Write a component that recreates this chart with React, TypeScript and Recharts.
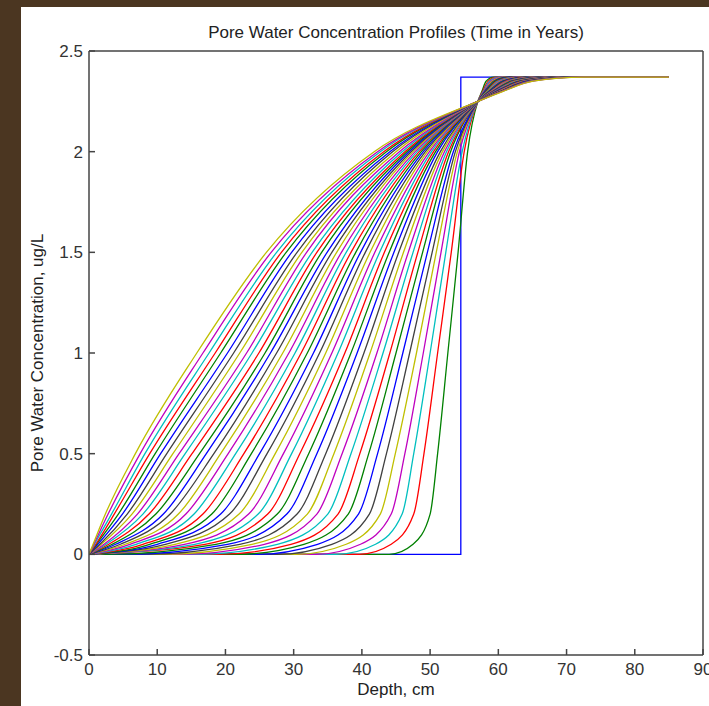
import React from "react"
import { LineChart, Line, XAxis, YAxis } from "recharts"

// Depth (cm) at which each profile crosses a concentration level.
// Profiles 1..40, from the one right next to the initial step (green) out to the outermost (yellow).
const footDepth = [44.0, 39.6, 36.3, 33.3, 30.4, 27.5, 24.5, 21.6, 18.8, 15.9, 13.1, 10.3, 7.6, 4.7, 2.0, 0, 0, 0, 0, 0, 0, 0, 0, 0, 0, 0, 0, 0, 0, 0, 0, 0, 0, 0, 0, 0, 0, 0, 0, 0]
const depthAt005 = [47.5, 44.3, 42.0, 39.8, 37.7, 35.6, 33.5, 31.5, 29.6, 27.6, 25.7, 23.9, 22.1, 20.3, 18.6, 17.0, 15.5, 14.0, 12.6, 11.2, 10.0, 8.9, 7.9, 6.9, 6.0, 5.3, 4.6, 3.9, 3.4, 2.9, 2.5, 2.2, 1.8, 1.6, 1.3, 1.1, 1.0, 0.8, 0.7, 0.6]
const depthAt020 = [50.0, 47.6, 45.9, 44.3, 42.7, 41.1, 39.5, 38.0, 36.5, 35.0, 33.4, 32.0, 30.5, 29.0, 27.6, 26.2, 24.8, 23.4, 22.0, 20.6, 19.3, 18.0, 16.7, 15.4, 14.2, 13.1, 11.9, 10.9, 9.8, 8.8, 7.9, 7.1, 6.3, 5.6, 4.9, 4.3, 3.7, 3.3, 2.8, 2.4]
const depthAt050 = [51.1, 49.1, 47.6, 46.3, 44.9, 43.6, 42.3, 41.0, 39.7, 38.4, 37.1, 35.9, 34.7, 33.4, 32.2, 30.9, 29.7, 28.5, 27.3, 26.1, 25.0, 23.8, 22.7, 21.5, 20.4, 19.3, 18.3, 17.2, 16.2, 15.1, 14.1, 13.2, 12.3, 11.4, 10.5, 9.7, 8.9, 8.2, 7.5, 6.8]
const depthAt100 = [52.6, 51.1, 50.0, 49.0, 48.0, 47.0, 46.0, 45.0, 44.1, 43.1, 42.2, 41.2, 40.3, 39.3, 38.4, 37.5, 36.5, 35.6, 34.7, 33.8, 32.9, 32.0, 31.1, 30.2, 29.3, 28.4, 27.5, 26.6, 25.8, 24.9, 23.9, 23.1, 22.1, 21.2, 20.3, 19.3, 18.5, 17.6, 16.7, 15.8]
const depthAt150 = [54.1, 53.1, 52.3, 51.6, 50.9, 50.3, 49.6, 48.9, 48.2, 47.5, 46.8, 46.1, 45.4, 44.7, 44.0, 43.3, 42.6, 41.9, 41.2, 40.5, 39.8, 39.1, 38.4, 37.7, 37.0, 36.3, 35.6, 34.9, 34.1, 33.4, 32.7, 31.9, 31.2, 30.5, 29.7, 28.9, 28.2, 27.5, 26.7, 26.0]
const depthAt200 = [55.5, 55.0, 54.7, 54.3, 54.0, 53.7, 53.4, 53.0, 52.7, 52.4, 52.1, 51.8, 51.5, 51.1, 50.8, 50.5, 50.2, 49.9, 49.6, 49.3, 49.0, 48.7, 48.4, 48.1, 47.8, 47.5, 47.2, 46.9, 46.6, 46.3, 45.9, 45.5, 45.0, 44.5, 44.1, 43.6, 43.2, 42.7, 42.3, 41.8]
const depthAt230 = [57.6, 57.7, 57.8, 57.9, 58.0, 58.0, 58.1, 58.2, 58.3, 58.4, 58.5, 58.5, 58.6, 58.7, 58.8, 58.9, 59.0, 59.0, 59.1, 59.2, 59.3, 59.4, 59.4, 59.5, 59.6, 59.7, 59.7, 59.8, 59.9, 60.0, 60.1, 60.1, 60.2, 60.3, 60.4, 60.4, 60.5, 60.6, 60.6, 60.7]
const depthAt235 = [58.2, 58.5, 58.7, 58.9, 59.1, 59.3, 59.5, 59.6, 59.8, 60.0, 60.2, 60.4, 60.6, 60.7, 60.9, 61.1, 61.3, 61.4, 61.6, 61.8, 62.0, 62.1, 62.3, 62.5, 62.7, 62.8, 63.0, 63.2, 63.3, 63.5, 63.7, 63.8, 64.0, 64.1, 64.3, 64.5, 64.6, 64.8, 65.0, 65.1]
const depthAtTop = [59.3, 59.8, 60.2, 60.6, 61.0, 61.3, 61.7, 62.1, 62.4, 62.8, 63.1, 63.5, 63.8, 64.2, 64.5, 64.8, 65.2, 65.5, 65.9, 66.2, 66.5, 66.9, 67.2, 67.5, 67.8, 68.2, 68.5, 68.8, 69.1, 69.4, 69.8, 70.1, 70.4, 70.7, 71.0, 71.3, 71.6, 71.9, 72.2, 72.6]

// all profiles pass close to this point
const crossDepth = 57
const crossConc = 2.25

const interfaceDepth = 54.5
const initialConc = 2.37
const maxDepth = 85

const xTicks = [0, 10, 20, 30, 40, 50, 60, 70, 80, 90]
const yTicks = [-0.5, 0, 0.5, 1, 1.5, 2, 2.5]

// old matlab colour order
const colors = ["#0000ff", "#008000", "#ff0000", "#00bfbf", "#bf00bf", "#bfbf00", "#404040"]

const font = "'Liberation Sans', Arial, Helvetica, sans-serif"

type Pt = { depth: number; conc: number }

const initialProfile: Pt[] = [
  { depth: 0, conc: 0 },
  { depth: interfaceDepth, conc: 0 },
  { depth: interfaceDepth, conc: initialConc },
  { depth: maxDepth, conc: initialConc },
]

const profiles: Pt[][] = depthAt100.map((_, i) => {
  const pts: Pt[] = [{ depth: 0, conc: 0 }]
  if (footDepth[i] > 0) pts.push({ depth: footDepth[i], conc: 0 })
  pts.push(
    { depth: depthAt005[i], conc: 0.05 },
    { depth: depthAt020[i], conc: 0.2 },
    { depth: depthAt050[i], conc: 0.5 },
    { depth: depthAt100[i], conc: 1.0 },
    { depth: depthAt150[i], conc: 1.5 },
    { depth: depthAt200[i], conc: 2.0 },
    { depth: crossDepth, conc: crossConc },
    { depth: depthAt230[i], conc: 2.3 },
    { depth: depthAt235[i], conc: 2.35 },
    { depth: depthAtTop[i], conc: initialConc },
    { depth: maxDepth, conc: initialConc },
  )
  return pts
})

const tickStyle = { fill: "#333", fontSize: 17, fontFamily: font }
const axisColor = "#444"

export default function App() {
  return (
    <div style={{ position: "absolute", left: 0, top: 0, width: 709, height: 706, background: "#4b3621", overflow: "hidden" }}>
      <div style={{ position: "absolute", left: 21, top: 7, width: 688, height: 699, background: "#fff" }} />
      <div style={{ position: "absolute", left: 0, top: 0 }}>
        <LineChart width={709} height={706} margin={{ top: 41, right: 2, bottom: 21, left: 29 }}>
          <XAxis
            dataKey="depth"
            type="number"
            domain={[0, 90]}
            ticks={xTicks}
            interval={0}
            allowDataOverflow
            height={30}
            tickSize={-6}
            tickMargin={14}
            tick={tickStyle}
            stroke={axisColor}
            axisLine={{ stroke: axisColor, strokeWidth: 1.5 }}
            tickLine={{ stroke: axisColor, strokeWidth: 1.5 }}
          />
          <XAxis
            xAxisId="top"
            orientation="top"
            type="number"
            domain={[0, 90]}
            ticks={xTicks}
            interval={0}
            allowDataOverflow
            height={10}
            tickSize={-6}
            tick={false}
            axisLine={{ stroke: axisColor, strokeWidth: 1.5 }}
            tickLine={{ stroke: axisColor, strokeWidth: 1.5 }}
          />
          <YAxis
            type="number"
            domain={[-0.5, 2.5]}
            ticks={yTicks}
            interval={0}
            allowDataOverflow
            width={60}
            tickSize={-6}
            tickMargin={12}
            tick={tickStyle}
            axisLine={{ stroke: axisColor, strokeWidth: 1.5 }}
            tickLine={{ stroke: axisColor, strokeWidth: 1.5 }}
          />
          <YAxis
            yAxisId="right"
            orientation="right"
            type="number"
            domain={[-0.5, 2.5]}
            ticks={yTicks}
            interval={0}
            allowDataOverflow
            width={4}
            tickSize={-6}
            tick={false}
            axisLine={{ stroke: axisColor, strokeWidth: 1.5 }}
            tickLine={{ stroke: axisColor, strokeWidth: 1.5 }}
          />
          <Line
            data={initialProfile}
            dataKey="conc"
            type="linear"
            stroke={colors[0]}
            strokeWidth={1.3}
            dot={false}
            activeDot={false}
            isAnimationActive={false}
          />
          {profiles.map((p, i) => (
            <Line
              key={i}
              data={p}
              dataKey="conc"
              type="monotone"
              stroke={colors[(i + 1) % colors.length]}
              strokeWidth={1.3}
              dot={false}
              activeDot={false}
              isAnimationActive={false}
            />
          ))}
        </LineChart>
      </div>
      <div style={{ position: "absolute", left: 96, width: 600, top: 22, textAlign: "center", fontFamily: font, fontSize: 17, color: "#222", lineHeight: "22px" }}>
        Pore Water Concentration Profiles (Time in Years)
      </div>
      <div style={{ position: "absolute", left: 196, width: 400, top: 679, textAlign: "center", fontFamily: font, fontSize: 17, color: "#222", lineHeight: "22px" }}>
        Depth, cm
      </div>
      <div
        style={{
          position: "absolute",
          left: 38 - 200,
          top: 353 - 11,
          width: 400,
          textAlign: "center",
          fontFamily: font,
          fontSize: 17,
          color: "#222",
          lineHeight: "22px",
          transform: "rotate(-90deg)",
        }}
      >
        Pore Water Concentration, ug/L
      </div>
    </div>
  )
}
